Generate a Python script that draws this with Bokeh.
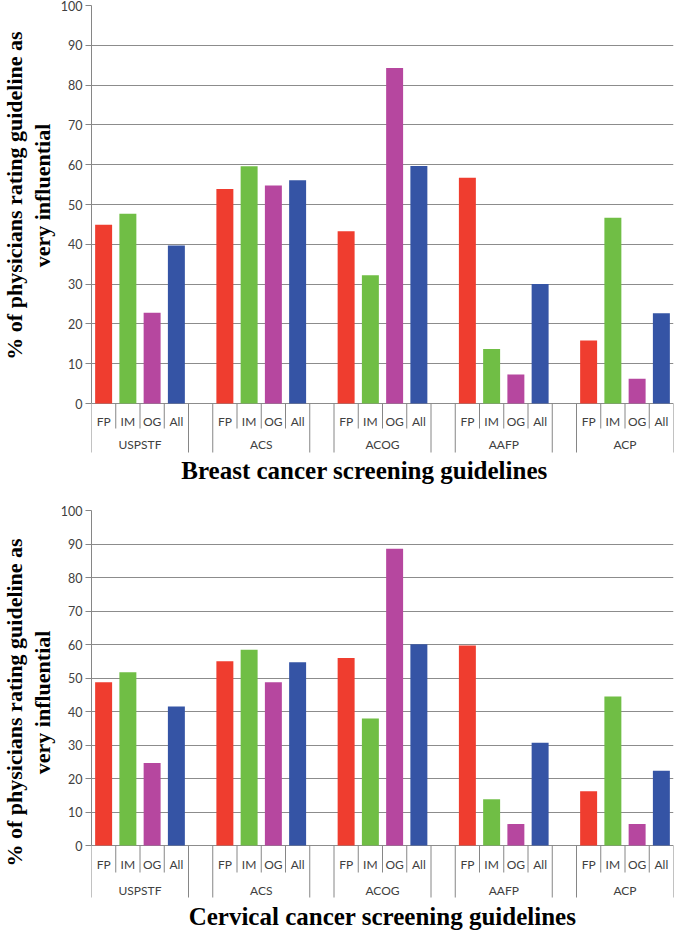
from math import pi
from bokeh.plotting import figure
from bokeh.models import FactorRange, Range1d, FixedTicker, ColumnDataSource
from bokeh.transform import dodge, factor_cmap
from bokeh.layouts import column, row
from bokeh.embed import file_html
from bokeh.resources import INLINE
from bokeh.core.properties import value

# ---------------- data ----------------
groups = ["USPSTF", "ACS", "ACOG", "AAFP", "ACP"]
subgroups = ["FP", "IM", "OG", "All"]
sub_colors = ["#EF3D2F", "#70BE45", "#B6479F", "#3554A5"]
y_ticks = [0, 10, 20, 30, 40, 50, 60, 70, 80, 90, 100]

y_label = "% of physicians rating guideline as\nvery influential"
breast_title = "Breast cancer screening guidelines"
cervical_title = "Cervical cancer screening guidelines"

breast_fp = [44.9, 53.9, 43.3, 56.7, 15.8]
breast_im = [47.7, 59.6, 32.2, 13.7, 46.7]
breast_og = [22.8, 54.8, 84.3, 7.3, 6.2]
breast_all = [39.7, 56.1, 59.7, 30.0, 22.7]

cervical_fp = [48.7, 55.0, 56.0, 59.7, 16.2]
cervical_im = [51.7, 58.4, 37.9, 13.8, 44.5]
cervical_og = [24.6, 48.7, 88.6, 6.4, 6.4]
cervical_all = [41.5, 54.7, 60.1, 30.7, 22.3]

SANS = "Lato"
SERIF = "Liberation Serif"
AXIS_GRAY = "#868686"
TEXT_GRAY = "#404040"
LABEL_W = 57
CHART_W = 618


def make_ylabel(height, center_y):
    """Narrow panel holding the rotated y-axis title (pixel coordinates)."""
    q = figure(width=LABEL_W, height=height,
               x_range=Range1d(0, LABEL_W), y_range=Range1d(height, 0),
               x_axis_location=None, y_axis_location=None,
               toolbar_location=None, output_backend="svg",
               min_border_left=0, min_border_right=0,
               min_border_top=0, min_border_bottom=0)
    q.outline_line_color = None
    q.grid.visible = False
    q.text(x=[28], y=[center_y], text=[y_label], angle=pi / 2,
           text_align="center", text_baseline="middle",
           text_font=value(SERIF), text_font_style="bold",
           text_font_size="22px", text_line_height=1.15, text_color="black")
    return q


def make_chart(title, series, height, border_top, plot_px, title_dx, title_dy,
               sub_dy, grp_dy, short_px, tall_px):
    frame_h = height - border_top
    ppu = plot_px / 100.0                      # pixels per percentage point
    y_start = -(frame_h - plot_px) / ppu

    factors = [(g, s) for g in groups for s in subgroups]
    x_range = FactorRange(*factors, group_padding=1.0, range_padding=0)

    tops = []
    for gi, g in enumerate(groups):
        for si, s in enumerate(subgroups):
            tops.append(series[si][gi])

    p = figure(width=CHART_W, height=height, x_range=x_range,
               y_range=Range1d(y_start, 100),
               x_axis_location=None, toolbar_location=None,
               output_backend="svg",
               min_border_left=0, min_border_right=2,
               min_border_top=border_top, min_border_bottom=0)
    p.outline_line_color = None
    p.background_fill_color = "white"
    p.border_fill_color = "white"

    # y axis / grid
    ax = p.yaxis[0]
    ax.bounds = (0, 100)
    ax.ticker = FixedTicker(ticks=y_ticks, minor_ticks=[])
    ax.axis_line_color = AXIS_GRAY
    ax.major_tick_line_color = AXIS_GRAY
    ax.major_tick_out = 6
    ax.major_tick_in = 0
    ax.minor_tick_out = 0
    ax.minor_tick_in = 0
    ax.major_label_standoff = 3
    ax.major_label_text_font = SANS
    ax.major_label_text_font_size = "12.5px"
    ax.major_label_text_color = TEXT_GRAY
    p.ygrid.grid_line_color = "#8C8C8C"
    p.ygrid.grid_line_width = 1
    for g in p.xgrid:
        g.visible = False

    # bars
    src = ColumnDataSource(dict(x=factors, top=tops))
    p.vbar(x="x", top="top", bottom=0, width=0.7, source=src,
           fill_color=factor_cmap("x", palette=sub_colors, factors=subgroups, start=1, end=2),
           line_color=None)

    # category separators (Excel style)
    short_len = -short_px / ppu
    tall_len = -tall_px / ppu
    left_src = ColumnDataSource(dict(
        x=factors,
        y1=[tall_len if s == "FP" else short_len for (g, s) in factors]))
    p.segment(x0=dodge("x", -0.5, range=x_range), y0=0,
              x1=dodge("x", -0.5, range=x_range), y1="y1",
              source=left_src, line_color=AXIS_GRAY, line_width=1)
    right_src = ColumnDataSource(dict(
        x=[(g, "All") for g in groups], y1=[tall_len] * len(groups)))
    p.segment(x0=dodge("x", 0.5, range=x_range), y0=0,
              x1=dodge("x", 0.5, range=x_range), y1="y1",
              source=right_src, line_color=AXIS_GRAY, line_width=1)

    # category labels
    p.text(x="x", y=0, text="t", source=ColumnDataSource(dict(
        x=factors, t=[s for (g, s) in factors])),
        y_offset=sub_dy, text_align="center", text_baseline="middle",
        text_font=value(SANS), text_font_size="12px", text_color=TEXT_GRAY)
    p.text(x="x", y=0, text="t", source=ColumnDataSource(dict(
        x=groups, t=groups)),
        y_offset=grp_dy, text_align="center", text_baseline="middle",
        text_font=value(SANS), text_font_size="12px", text_color=TEXT_GRAY)

    # chart title (centred on the middle group)
    p.text(x="x", y=0, text="t", source=ColumnDataSource(dict(
        x=[groups[len(groups) // 2]], t=[title])),
        x_offset=title_dx, y_offset=title_dy,
        text_align="center", text_baseline="middle",
        text_font=value(SERIF), text_font_style="bold",
        text_font_size="25px", text_color="black")
    return p


H1, H2 = 490, 443
p1 = make_chart(breast_title, [breast_fp, breast_im, breast_og, breast_all],
                height=H1, border_top=5, plot_px=398, title_dx=-18, title_dy=67,
                sub_dy=18, grp_dy=41, short_px=25, tall_px=49)
p2 = make_chart(cervical_title, [cervical_fp, cervical_im, cervical_og, cervical_all],
                height=H2, border_top=20, plot_px=335, title_dx=0, title_dy=71,
                sub_dy=19, grp_dy=45, short_px=27, tall_px=52)

layout = column(row(make_ylabel(H1, 192), p1), row(make_ylabel(H2, 201), p2))
open("out.html", "w").write(file_html(layout, INLINE))
